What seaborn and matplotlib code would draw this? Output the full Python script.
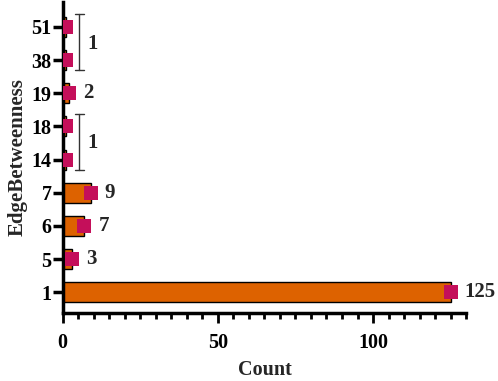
import matplotlib
matplotlib.use("Agg")
import matplotlib.pyplot as plt
import seaborn as sns
import pandas as pd
from matplotlib.ticker import MultipleLocator

categories = ["51", "38", "19", "18", "14", "7", "6", "5", "1"]
counts = [1, 1, 2, 1, 1, 9, 7, 3, 125]
single_labels = {"19": "2", "7": "9", "6": "7", "5": "3", "1": "125"}
groups = [(["51", "38"], "1"), (["18", "14"], "1")]

sns.set_theme(style="ticks")
plt.rcParams['font.family'] = ['Liberation Serif', 'DejaVu Serif']
plt.rcParams['font.weight'] = 'bold'
plt.rcParams['axes.labelweight'] = 'bold'

df = pd.DataFrame({"EdgeBetweenness": categories, "Count": counts})

fig, ax = plt.subplots(figsize=(4.98, 3.81), dpi=100)
fig.subplots_adjust(left=0.126, right=0.936, top=0.995, bottom=0.178)

sns.barplot(data=df, x="Count", y="EdgeBetweenness", order=categories,
            color="#DD6200", edgecolor="black", linewidth=1, width=0.6,
            saturation=1, ax=ax, zorder=2)
sns.stripplot(data=df, x="Count", y="EdgeBetweenness", order=categories,
              marker="s", size=9.5, color="#C40F5A", jitter=False,
              linewidth=0, ax=ax, zorder=4)

idx = {c: i for i, c in enumerate(categories)}
cnt = dict(zip(categories, counts))
for c, lab in single_labels.items():
    ax.annotate(lab, xy=(cnt[c], idx[c]), xytext=(10, 0),
                textcoords="offset points", va="center", ha="left",
                fontsize=15, fontweight="bold")

for members, lab in groups:
    i0 = idx[members[0]]
    i1 = idx[members[-1]]
    xb = max(cnt[m] for m in members) + 4.3
    y0, y1 = i0 - 0.38, i1 + 0.3
    ax.plot([xb, xb], [y0, y1], color="#333333", lw=1, zorder=3)
    ax.plot([xb - 1.5, xb + 1.5], [y0, y0], color="#333333", lw=1, zorder=3)
    ax.plot([xb - 1.5, xb + 1.5], [y1, y1], color="#333333", lw=1, zorder=3)
    ax.annotate(lab, xy=(xb, (i0 + i1) / 2), xytext=(6, 0),
                textcoords="offset points", va="center", ha="left",
                fontsize=15, fontweight="bold")

ax.set_xlim(0, 130)
ax.set_ylim(8.63, -0.755)
ax.set_xticks([0, 50, 100])
ax.xaxis.set_minor_locator(MultipleLocator(5))

for s in ["top", "right"]:
    ax.spines[s].set_visible(False)
for s in ["left", "bottom"]:
    ax.spines[s].set_linewidth(2.5)
    ax.spines[s].set_color("black")

ax.tick_params(axis="y", which="major", length=7, width=2.5, pad=1,
               labelsize=14.5, colors="black")
ax.tick_params(axis="x", which="major", length=7, width=2, pad=7,
               labelsize=14.5, colors="black")
ax.tick_params(axis="x", which="minor", length=4, width=2, colors="black")
for t in ax.get_xticklabels() + ax.get_yticklabels():
    t.set_fontweight("bold")

ax.set_xlabel("Count", fontsize=14.5, fontweight="bold", labelpad=5)
ax.set_ylabel("EdgeBetweenness", fontsize=15, fontweight="bold", labelpad=3)

fig.savefig("out.png", dpi=100)
